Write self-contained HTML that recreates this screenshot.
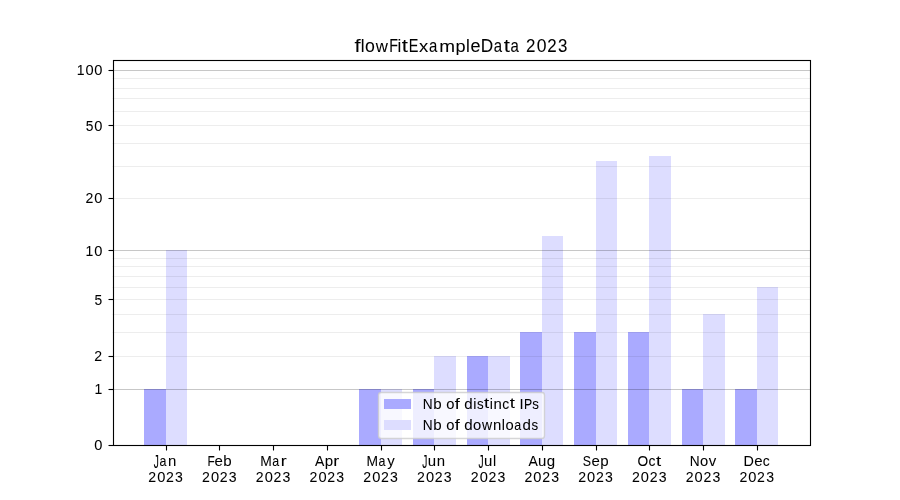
<!DOCTYPE html><html><head><meta charset="utf-8"><title>flowFitExampleData 2023</title><style>html,body{margin:0;padding:0;background:#fff;overflow:hidden;}svg{display:block;will-change:transform;}text{font-family:"Liberation Sans",sans-serif;fill:#000;}</style></head><body>
<svg width="900" height="500" viewBox="0 0 900 500">
<rect x="0" y="0" width="900" height="500" fill="#fff"/>
<rect x="144" y="389" width="22" height="56" fill="#aaaaff"/>
<rect x="166" y="250" width="21" height="195" fill="#ddddff"/>
<rect x="359" y="389" width="22" height="56" fill="#aaaaff"/>
<rect x="381" y="389" width="21" height="56" fill="#ddddff"/>
<rect x="413" y="389" width="21" height="56" fill="#aaaaff"/>
<rect x="434" y="356" width="22" height="89" fill="#ddddff"/>
<rect x="467" y="356" width="21" height="89" fill="#aaaaff"/>
<rect x="488" y="356" width="22" height="89" fill="#ddddff"/>
<rect x="520" y="332" width="22" height="113" fill="#aaaaff"/>
<rect x="542" y="236" width="21" height="209" fill="#ddddff"/>
<rect x="574" y="332" width="22" height="113" fill="#aaaaff"/>
<rect x="596" y="161" width="21" height="284" fill="#ddddff"/>
<rect x="628" y="332" width="21" height="113" fill="#aaaaff"/>
<rect x="649" y="156" width="22" height="289" fill="#ddddff"/>
<rect x="682" y="389" width="21" height="56" fill="#aaaaff"/>
<rect x="703" y="314" width="22" height="131" fill="#ddddff"/>
<rect x="735" y="389" width="22" height="56" fill="#aaaaff"/>
<rect x="757" y="287" width="21" height="158" fill="#ddddff"/>
<line x1="112.5" x2="810.0" y1="78.5" y2="78.5" stroke="#000" stroke-opacity="0.07" stroke-width="1.111"/>
<line x1="112.5" x2="810.0" y1="88.5" y2="88.5" stroke="#000" stroke-opacity="0.07" stroke-width="1.111"/>
<line x1="112.5" x2="810.0" y1="98.5" y2="98.5" stroke="#000" stroke-opacity="0.07" stroke-width="1.111"/>
<line x1="112.5" x2="810.0" y1="111.5" y2="111.5" stroke="#000" stroke-opacity="0.07" stroke-width="1.111"/>
<line x1="112.5" x2="810.0" y1="125.5" y2="125.5" stroke="#000" stroke-opacity="0.07" stroke-width="1.111"/>
<line x1="112.5" x2="810.0" y1="143.5" y2="143.5" stroke="#000" stroke-opacity="0.07" stroke-width="1.111"/>
<line x1="112.5" x2="810.0" y1="166.5" y2="166.5" stroke="#000" stroke-opacity="0.07" stroke-width="1.111"/>
<line x1="112.5" x2="810.0" y1="198.5" y2="198.5" stroke="#000" stroke-opacity="0.07" stroke-width="1.111"/>
<line x1="112.5" x2="810.0" y1="258.5" y2="258.5" stroke="#000" stroke-opacity="0.07" stroke-width="1.111"/>
<line x1="112.5" x2="810.0" y1="266.5" y2="266.5" stroke="#000" stroke-opacity="0.07" stroke-width="1.111"/>
<line x1="112.5" x2="810.0" y1="276.5" y2="276.5" stroke="#000" stroke-opacity="0.07" stroke-width="1.111"/>
<line x1="112.5" x2="810.0" y1="287.5" y2="287.5" stroke="#000" stroke-opacity="0.07" stroke-width="1.111"/>
<line x1="112.5" x2="810.0" y1="299.5" y2="299.5" stroke="#000" stroke-opacity="0.07" stroke-width="1.111"/>
<line x1="112.5" x2="810.0" y1="314.5" y2="314.5" stroke="#000" stroke-opacity="0.07" stroke-width="1.111"/>
<line x1="112.5" x2="810.0" y1="332.5" y2="332.5" stroke="#000" stroke-opacity="0.07" stroke-width="1.111"/>
<line x1="112.5" x2="810.0" y1="356.5" y2="356.5" stroke="#000" stroke-opacity="0.07" stroke-width="1.111"/>
<line x1="112.5" x2="810.0" y1="70.5" y2="70.5" stroke="#000" stroke-opacity="0.22" stroke-width="1.111"/>
<line x1="112.5" x2="810.0" y1="250.5" y2="250.5" stroke="#000" stroke-opacity="0.22" stroke-width="1.111"/>
<line x1="112.5" x2="810.0" y1="389.5" y2="389.5" stroke="#000" stroke-opacity="0.22" stroke-width="1.111"/>
<rect x="378.5" y="392.5" width="166" height="46" rx="2.78" ry="2.78" fill="#fff" fill-opacity="0.8" stroke="#ccc" stroke-opacity="0.8" stroke-width="1.389"/>
<rect x="384" y="399" width="27" height="10" fill="#aaaaff"/>
<rect x="384" y="420" width="27" height="10" fill="#ddddff"/>
<rect x="113.5" y="60.5" width="697" height="385" fill="none" stroke="#000" stroke-width="1.111"/>
<line x1="108.5" x2="113.5" y1="445.5" y2="445.5" stroke="#000" stroke-width="1.111"/>
<text transform="translate(98.36 450.05) scale(0.999 1.013)" x="-4.07" font-size="14.65" stroke="#000" stroke-width="0.05">0</text>
<line x1="108.5" x2="113.5" y1="389.5" y2="389.5" stroke="#000" stroke-width="1.111"/>
<text transform="translate(98.48 394.00) scale(0.954 1.004)" x="-4.27" font-size="14.65" stroke="#000" stroke-width="0.05">1</text>
<line x1="108.5" x2="113.5" y1="356.5" y2="356.5" stroke="#000" stroke-width="1.111"/>
<text transform="translate(98.18 361.00) scale(0.963 1.008)" x="-4.07" font-size="14.65" stroke="#000" stroke-width="0.05">2</text>
<line x1="108.5" x2="113.5" y1="299.5" y2="299.5" stroke="#000" stroke-width="1.111"/>
<text transform="translate(98.29 305.05) scale(0.943 1.010)" x="-4.06" font-size="14.65" stroke="#000" stroke-width="0.05">5</text>
<line x1="108.5" x2="113.5" y1="250.5" y2="250.5" stroke="#000" stroke-width="1.111"/>
<text transform="translate(89.65 256.00) scale(0.954 1.004)" x="-4.27" font-size="14.65" stroke="#000" stroke-width="0.05">1</text>
<text transform="translate(98.36 256.05) scale(0.999 1.013)" x="-4.07" font-size="14.65" stroke="#000" stroke-width="0.05">0</text>
<line x1="108.5" x2="113.5" y1="198.5" y2="198.5" stroke="#000" stroke-width="1.111"/>
<text transform="translate(89.34 203.00) scale(0.963 1.008)" x="-4.07" font-size="14.65" stroke="#000" stroke-width="0.05">2</text>
<text transform="translate(98.36 203.05) scale(0.999 1.013)" x="-4.07" font-size="14.65" stroke="#000" stroke-width="0.05">0</text>
<line x1="108.5" x2="113.5" y1="125.5" y2="125.5" stroke="#000" stroke-width="1.111"/>
<text transform="translate(89.45 131.05) scale(0.943 1.010)" x="-4.06" font-size="14.65" stroke="#000" stroke-width="0.05">5</text>
<text transform="translate(98.36 131.05) scale(0.999 1.013)" x="-4.07" font-size="14.65" stroke="#000" stroke-width="0.05">0</text>
<line x1="108.5" x2="113.5" y1="70.5" y2="70.5" stroke="#000" stroke-width="1.111"/>
<text transform="translate(80.81 75.00) scale(0.954 1.004)" x="-4.27" font-size="14.65" stroke="#000" stroke-width="0.05">1</text>
<text transform="translate(89.52 75.05) scale(0.999 1.013)" x="-4.07" font-size="14.65" stroke="#000" stroke-width="0.05">0</text>
<text transform="translate(98.36 75.05) scale(0.999 1.013)" x="-4.07" font-size="14.65" stroke="#000" stroke-width="0.05">0</text>
<line x1="166.5" x2="166.5" y1="445.5" y2="450.5" stroke="#000" stroke-width="1.111"/>
<text transform="translate(156.00 468.32) scale(0.700 1.262)" x="-3.23" font-size="14.65" stroke="#000" stroke-width="0.05">J</text>
<text transform="translate(163.13 465.77) scale(0.852 0.993)" x="-4.39" font-size="14.65" stroke="#000" stroke-width="0.05">a</text>
<text transform="translate(172.04 465.72) scale(1.022 0.987)" x="-4.09" font-size="14.65" stroke="#000" stroke-width="0.05">n</text>
<text transform="translate(152.26 481.92) scale(0.963 1.008)" x="-4.07" font-size="14.65" stroke="#000" stroke-width="0.05">2</text>
<text transform="translate(161.28 481.97) scale(0.999 1.013)" x="-4.07" font-size="14.65" stroke="#000" stroke-width="0.05">0</text>
<text transform="translate(169.93 481.92) scale(0.963 1.008)" x="-4.07" font-size="14.65" stroke="#000" stroke-width="0.05">2</text>
<text transform="translate(178.93 481.97) scale(0.960 1.013)" x="-4.03" font-size="14.65" stroke="#000" stroke-width="0.05">3</text>
<line x1="219.5" x2="219.5" y1="445.5" y2="450.5" stroke="#000" stroke-width="1.111"/>
<text transform="translate(211.42 465.72) scale(0.812 1.004)" x="-4.78" font-size="14.65" stroke="#000" stroke-width="0.05">F</text>
<text transform="translate(218.65 465.77) scale(1.024 0.993)" x="-4.06" font-size="14.65" stroke="#000" stroke-width="0.05">e</text>
<text transform="translate(227.57 465.77) scale(1.031 0.999)" x="-4.24" font-size="14.65" stroke="#000" stroke-width="0.05">b</text>
<text transform="translate(205.99 481.92) scale(0.963 1.008)" x="-4.07" font-size="14.65" stroke="#000" stroke-width="0.05">2</text>
<text transform="translate(215.01 481.97) scale(0.999 1.013)" x="-4.07" font-size="14.65" stroke="#000" stroke-width="0.05">0</text>
<text transform="translate(223.67 481.92) scale(0.963 1.008)" x="-4.07" font-size="14.65" stroke="#000" stroke-width="0.05">2</text>
<text transform="translate(232.66 481.97) scale(0.960 1.013)" x="-4.03" font-size="14.65" stroke="#000" stroke-width="0.05">3</text>
<line x1="273.5" x2="273.5" y1="445.5" y2="450.5" stroke="#000" stroke-width="1.111"/>
<text transform="translate(266.06 465.72) scale(0.945 1.004)" x="-6.10" font-size="14.65" stroke="#000" stroke-width="0.05">M</text>
<text transform="translate(276.10 465.77) scale(0.852 0.993)" x="-4.39" font-size="14.65" stroke="#000" stroke-width="0.05">a</text>
<text transform="translate(284.05 465.72) scale(1.214 0.987)" x="-2.80" font-size="14.65" stroke="#000" stroke-width="0.05">r</text>
<text transform="translate(259.73 481.92) scale(0.963 1.008)" x="-4.07" font-size="14.65" stroke="#000" stroke-width="0.05">2</text>
<text transform="translate(268.75 481.97) scale(0.999 1.013)" x="-4.07" font-size="14.65" stroke="#000" stroke-width="0.05">0</text>
<text transform="translate(277.40 481.92) scale(0.963 1.008)" x="-4.07" font-size="14.65" stroke="#000" stroke-width="0.05">2</text>
<text transform="translate(286.40 481.97) scale(0.960 1.013)" x="-4.03" font-size="14.65" stroke="#000" stroke-width="0.05">3</text>
<line x1="327.5" x2="327.5" y1="445.5" y2="450.5" stroke="#000" stroke-width="1.111"/>
<text transform="translate(319.64 465.72) scale(0.955 1.004)" x="-4.89" font-size="14.65" stroke="#000" stroke-width="0.05">A</text>
<text transform="translate(329.06 465.64) scale(1.031 0.977)" x="-4.24" font-size="14.65" stroke="#000" stroke-width="0.05">p</text>
<text transform="translate(336.70 465.72) scale(1.214 0.987)" x="-2.80" font-size="14.65" stroke="#000" stroke-width="0.05">r</text>
<text transform="translate(313.47 481.92) scale(0.963 1.008)" x="-4.07" font-size="14.65" stroke="#000" stroke-width="0.05">2</text>
<text transform="translate(322.49 481.97) scale(0.999 1.013)" x="-4.07" font-size="14.65" stroke="#000" stroke-width="0.05">0</text>
<text transform="translate(331.14 481.92) scale(0.963 1.008)" x="-4.07" font-size="14.65" stroke="#000" stroke-width="0.05">2</text>
<text transform="translate(340.14 481.97) scale(0.960 1.013)" x="-4.03" font-size="14.65" stroke="#000" stroke-width="0.05">3</text>
<line x1="381.5" x2="381.5" y1="445.5" y2="450.5" stroke="#000" stroke-width="1.111"/>
<text transform="translate(372.28 465.72) scale(0.945 1.004)" x="-6.10" font-size="14.65" stroke="#000" stroke-width="0.05">M</text>
<text transform="translate(382.31 465.77) scale(0.852 0.993)" x="-4.39" font-size="14.65" stroke="#000" stroke-width="0.05">a</text>
<text transform="translate(390.89 465.65) scale(1.018 0.972)" x="-3.67" font-size="14.65" stroke="#000" stroke-width="0.05">y</text>
<text transform="translate(367.20 481.92) scale(0.963 1.008)" x="-4.07" font-size="14.65" stroke="#000" stroke-width="0.05">2</text>
<text transform="translate(376.22 481.97) scale(0.999 1.013)" x="-4.07" font-size="14.65" stroke="#000" stroke-width="0.05">0</text>
<text transform="translate(384.88 481.92) scale(0.963 1.008)" x="-4.07" font-size="14.65" stroke="#000" stroke-width="0.05">2</text>
<text transform="translate(393.87 481.97) scale(0.960 1.013)" x="-4.03" font-size="14.65" stroke="#000" stroke-width="0.05">3</text>
<line x1="434.5" x2="434.5" y1="445.5" y2="450.5" stroke="#000" stroke-width="1.111"/>
<text transform="translate(424.54 468.32) scale(0.700 1.262)" x="-3.23" font-size="14.65" stroke="#000" stroke-width="0.05">J</text>
<text transform="translate(431.99 465.77) scale(1.022 1.012)" x="-4.06" font-size="14.65" stroke="#000" stroke-width="0.05">u</text>
<text transform="translate(440.87 465.72) scale(1.022 0.987)" x="-4.09" font-size="14.65" stroke="#000" stroke-width="0.05">n</text>
<text transform="translate(420.94 481.92) scale(0.963 1.008)" x="-4.07" font-size="14.65" stroke="#000" stroke-width="0.05">2</text>
<text transform="translate(429.96 481.97) scale(0.999 1.013)" x="-4.07" font-size="14.65" stroke="#000" stroke-width="0.05">0</text>
<text transform="translate(438.61 481.92) scale(0.963 1.008)" x="-4.07" font-size="14.65" stroke="#000" stroke-width="0.05">2</text>
<text transform="translate(447.61 481.97) scale(0.960 1.013)" x="-4.03" font-size="14.65" stroke="#000" stroke-width="0.05">3</text>
<line x1="488.5" x2="488.5" y1="445.5" y2="450.5" stroke="#000" stroke-width="1.111"/>
<text transform="translate(480.75 468.32) scale(0.700 1.262)" x="-3.23" font-size="14.65" stroke="#000" stroke-width="0.05">J</text>
<text transform="translate(488.20 465.77) scale(1.022 1.012)" x="-4.06" font-size="14.65" stroke="#000" stroke-width="0.05">u</text>
<text transform="translate(494.57 465.72) scale(0.969 0.994)" x="-1.63" font-size="14.65" stroke="#000" stroke-width="0.05">l</text>
<text transform="translate(474.68 481.92) scale(0.963 1.008)" x="-4.07" font-size="14.65" stroke="#000" stroke-width="0.05">2</text>
<text transform="translate(483.70 481.97) scale(0.999 1.013)" x="-4.07" font-size="14.65" stroke="#000" stroke-width="0.05">0</text>
<text transform="translate(492.35 481.92) scale(0.963 1.008)" x="-4.07" font-size="14.65" stroke="#000" stroke-width="0.05">2</text>
<text transform="translate(501.35 481.97) scale(0.960 1.013)" x="-4.03" font-size="14.65" stroke="#000" stroke-width="0.05">3</text>
<line x1="542.5" x2="542.5" y1="445.5" y2="450.5" stroke="#000" stroke-width="1.111"/>
<text transform="translate(533.04 465.72) scale(0.955 1.004)" x="-4.89" font-size="14.65" stroke="#000" stroke-width="0.05">A</text>
<text transform="translate(542.16 465.77) scale(1.022 1.012)" x="-4.06" font-size="14.65" stroke="#000" stroke-width="0.05">u</text>
<text transform="translate(550.76 465.63) scale(1.030 0.978)" x="-3.91" font-size="14.65" stroke="#000" stroke-width="0.05">g</text>
<text transform="translate(528.41 481.92) scale(0.963 1.008)" x="-4.07" font-size="14.65" stroke="#000" stroke-width="0.05">2</text>
<text transform="translate(537.43 481.97) scale(0.999 1.013)" x="-4.07" font-size="14.65" stroke="#000" stroke-width="0.05">0</text>
<text transform="translate(546.09 481.92) scale(0.963 1.008)" x="-4.07" font-size="14.65" stroke="#000" stroke-width="0.05">2</text>
<text transform="translate(555.08 481.97) scale(0.960 1.013)" x="-4.03" font-size="14.65" stroke="#000" stroke-width="0.05">3</text>
<line x1="596.5" x2="596.5" y1="445.5" y2="450.5" stroke="#000" stroke-width="1.111"/>
<text transform="translate(586.98 465.77) scale(0.845 1.013)" x="-4.88" font-size="14.65" stroke="#000" stroke-width="0.05">S</text>
<text transform="translate(595.60 465.77) scale(1.024 0.993)" x="-4.06" font-size="14.65" stroke="#000" stroke-width="0.05">e</text>
<text transform="translate(604.52 465.64) scale(1.031 0.977)" x="-4.24" font-size="14.65" stroke="#000" stroke-width="0.05">p</text>
<text transform="translate(582.15 481.92) scale(0.963 1.008)" x="-4.07" font-size="14.65" stroke="#000" stroke-width="0.05">2</text>
<text transform="translate(591.17 481.97) scale(0.999 1.013)" x="-4.07" font-size="14.65" stroke="#000" stroke-width="0.05">0</text>
<text transform="translate(599.82 481.92) scale(0.963 1.008)" x="-4.07" font-size="14.65" stroke="#000" stroke-width="0.05">2</text>
<text transform="translate(608.82 481.97) scale(0.960 1.013)" x="-4.03" font-size="14.65" stroke="#000" stroke-width="0.05">3</text>
<line x1="649.5" x2="649.5" y1="445.5" y2="450.5" stroke="#000" stroke-width="1.111"/>
<text transform="translate(642.79 465.77) scale(0.937 1.013)" x="-5.70" font-size="14.65" stroke="#000" stroke-width="0.05">O</text>
<text transform="translate(652.02 465.77) scale(0.951 0.993)" x="-3.78" font-size="14.65" stroke="#000" stroke-width="0.05">c</text>
<text transform="translate(658.63 465.60) scale(1.267 1.017)" x="-2.09" font-size="14.65" stroke="#000" stroke-width="0.05">t</text>
<text transform="translate(635.89 481.92) scale(0.963 1.008)" x="-4.07" font-size="14.65" stroke="#000" stroke-width="0.05">2</text>
<text transform="translate(644.91 481.97) scale(0.999 1.013)" x="-4.07" font-size="14.65" stroke="#000" stroke-width="0.05">0</text>
<text transform="translate(653.56 481.92) scale(0.963 1.008)" x="-4.07" font-size="14.65" stroke="#000" stroke-width="0.05">2</text>
<text transform="translate(662.56 481.97) scale(0.960 1.013)" x="-4.03" font-size="14.65" stroke="#000" stroke-width="0.05">3</text>
<line x1="703.5" x2="703.5" y1="445.5" y2="450.5" stroke="#000" stroke-width="1.111"/>
<text transform="translate(694.71 465.72) scale(0.936 1.004)" x="-5.29" font-size="14.65" stroke="#000" stroke-width="0.05">N</text>
<text transform="translate(704.15 465.77) scale(1.008 0.993)" x="-4.07" font-size="14.65" stroke="#000" stroke-width="0.05">o</text>
<text transform="translate(712.51 465.72) scale(1.023 0.981)" x="-3.66" font-size="14.65" stroke="#000" stroke-width="0.05">v</text>
<text transform="translate(689.62 481.92) scale(0.963 1.008)" x="-4.07" font-size="14.65" stroke="#000" stroke-width="0.05">2</text>
<text transform="translate(698.64 481.97) scale(0.999 1.013)" x="-4.07" font-size="14.65" stroke="#000" stroke-width="0.05">0</text>
<text transform="translate(707.30 481.92) scale(0.963 1.008)" x="-4.07" font-size="14.65" stroke="#000" stroke-width="0.05">2</text>
<text transform="translate(716.29 481.97) scale(0.960 1.013)" x="-4.03" font-size="14.65" stroke="#000" stroke-width="0.05">3</text>
<line x1="757.5" x2="757.5" y1="445.5" y2="450.5" stroke="#000" stroke-width="1.111"/>
<text transform="translate(748.98 465.72) scale(0.981 1.004)" x="-5.54" font-size="14.65" stroke="#000" stroke-width="0.05">D</text>
<text transform="translate(758.34 465.77) scale(1.024 0.993)" x="-4.06" font-size="14.65" stroke="#000" stroke-width="0.05">e</text>
<text transform="translate(766.37 465.77) scale(0.951 0.993)" x="-3.78" font-size="14.65" stroke="#000" stroke-width="0.05">c</text>
<text transform="translate(743.36 481.92) scale(0.963 1.008)" x="-4.07" font-size="14.65" stroke="#000" stroke-width="0.05">2</text>
<text transform="translate(752.38 481.97) scale(0.999 1.013)" x="-4.07" font-size="14.65" stroke="#000" stroke-width="0.05">0</text>
<text transform="translate(761.03 481.92) scale(0.963 1.008)" x="-4.07" font-size="14.65" stroke="#000" stroke-width="0.05">2</text>
<text transform="translate(770.03 481.97) scale(0.960 1.013)" x="-4.03" font-size="14.65" stroke="#000" stroke-width="0.05">3</text>
<text transform="translate(427.76 408.56) scale(0.936 1.004)" x="-5.29" font-size="14.65" stroke="#000" stroke-width="0.05">N</text>
<text transform="translate(437.62 408.61) scale(1.031 0.999)" x="-4.24" font-size="14.65" stroke="#000" stroke-width="0.05">b</text>
<text transform="translate(450.44 408.61) scale(1.008 0.993)" x="-4.07" font-size="14.65" stroke="#000" stroke-width="0.05">o</text>
<text transform="translate(457.42 408.56) scale(1.245 0.995)" x="-2.15" font-size="14.65" stroke="#000" stroke-width="0.05">f</text>
<text transform="translate(468.15 408.61) scale(1.030 0.999)" x="-3.91" font-size="14.65" stroke="#000" stroke-width="0.05">d</text>
<text transform="translate(474.74 408.56) scale(0.969 0.994)" x="-1.62" font-size="14.65" stroke="#000" stroke-width="0.05">i</text>
<text transform="translate(480.32 408.61) scale(0.909 0.996)" x="-3.60" font-size="14.65" stroke="#000" stroke-width="0.05">s</text>
<text transform="translate(486.65 408.44) scale(1.267 1.017)" x="-2.09" font-size="14.65" stroke="#000" stroke-width="0.05">t</text>
<text transform="translate(491.28 408.56) scale(0.969 0.994)" x="-1.62" font-size="14.65" stroke="#000" stroke-width="0.05">i</text>
<text transform="translate(497.65 408.56) scale(1.022 0.987)" x="-4.09" font-size="14.65" stroke="#000" stroke-width="0.05">n</text>
<text transform="translate(505.78 408.61) scale(0.951 0.993)" x="-3.78" font-size="14.65" stroke="#000" stroke-width="0.05">c</text>
<text transform="translate(512.39 408.44) scale(1.267 1.017)" x="-2.09" font-size="14.65" stroke="#000" stroke-width="0.05">t</text>
<text transform="translate(521.56 408.56) scale(1.002 1.004)" x="-2.04" font-size="14.65" stroke="#000" stroke-width="0.05">I</text>
<text transform="translate(528.24 408.56) scale(0.838 1.004)" x="-5.10" font-size="14.65" stroke="#000" stroke-width="0.05">P</text>
<text transform="translate(535.39 408.61) scale(0.909 0.996)" x="-3.60" font-size="14.65" stroke="#000" stroke-width="0.05">s</text>
<text transform="translate(427.76 429.50) scale(0.936 1.004)" x="-5.29" font-size="14.65" stroke="#000" stroke-width="0.05">N</text>
<text transform="translate(437.62 429.55) scale(1.031 0.999)" x="-4.24" font-size="14.65" stroke="#000" stroke-width="0.05">b</text>
<text transform="translate(450.44 429.55) scale(1.008 0.993)" x="-4.07" font-size="14.65" stroke="#000" stroke-width="0.05">o</text>
<text transform="translate(457.42 429.50) scale(1.245 0.995)" x="-2.15" font-size="14.65" stroke="#000" stroke-width="0.05">f</text>
<text transform="translate(468.15 429.55) scale(1.030 0.999)" x="-3.91" font-size="14.65" stroke="#000" stroke-width="0.05">d</text>
<text transform="translate(477.06 429.55) scale(1.008 0.993)" x="-4.07" font-size="14.65" stroke="#000" stroke-width="0.05">o</text>
<text transform="translate(486.99 429.50) scale(0.958 0.981)" x="-5.30" font-size="14.65" stroke="#000" stroke-width="0.05">w</text>
<text transform="translate(497.11 429.50) scale(1.022 0.987)" x="-4.09" font-size="14.65" stroke="#000" stroke-width="0.05">n</text>
<text transform="translate(503.40 429.50) scale(0.969 0.994)" x="-1.63" font-size="14.65" stroke="#000" stroke-width="0.05">l</text>
<text transform="translate(509.58 429.55) scale(1.008 0.993)" x="-4.07" font-size="14.65" stroke="#000" stroke-width="0.05">o</text>
<text transform="translate(517.87 429.55) scale(0.852 0.993)" x="-4.39" font-size="14.65" stroke="#000" stroke-width="0.05">a</text>
<text transform="translate(526.50 429.55) scale(1.030 0.999)" x="-3.91" font-size="14.65" stroke="#000" stroke-width="0.05">d</text>
<text transform="translate(534.81 429.55) scale(0.909 0.996)" x="-3.60" font-size="14.65" stroke="#000" stroke-width="0.05">s</text>
<text transform="translate(357.69 51.67) scale(1.245 0.995)" x="-2.58" font-size="17.58" stroke="#000" stroke-width="0.05">f</text>
<text transform="translate(362.59 51.67) scale(0.969 0.994)" x="-1.96" font-size="17.58" stroke="#000" stroke-width="0.05">l</text>
<text transform="translate(370.01 51.74) scale(1.008 0.993)" x="-4.89" font-size="17.58" stroke="#000" stroke-width="0.05">o</text>
<text transform="translate(381.92 51.67) scale(0.958 0.981)" x="-6.36" font-size="17.58" stroke="#000" stroke-width="0.05">w</text>
<text transform="translate(393.86 51.67) scale(0.812 1.004)" x="-5.74" font-size="17.58" stroke="#000" stroke-width="0.05">F</text>
<text transform="translate(399.43 51.67) scale(0.969 0.994)" x="-1.95" font-size="17.58" stroke="#000" stroke-width="0.05">i</text>
<text transform="translate(405.03 51.53) scale(1.267 1.017)" x="-2.51" font-size="17.58" stroke="#000" stroke-width="0.05">t</text>
<text transform="translate(413.83 51.67) scale(0.821 1.004)" x="-6.21" font-size="17.58" stroke="#000" stroke-width="0.05">E</text>
<text transform="translate(423.71 51.67) scale(1.051 0.981)" x="-4.40" font-size="17.58" stroke="#000" stroke-width="0.05">x</text>
<text transform="translate(433.52 51.74) scale(0.852 0.993)" x="-5.26" font-size="17.58" stroke="#000" stroke-width="0.05">a</text>
<text transform="translate(447.05 51.67) scale(1.080 0.987)" x="-7.33" font-size="17.58" stroke="#000" stroke-width="0.05">m</text>
<text transform="translate(460.71 51.57) scale(1.031 0.977)" x="-5.09" font-size="17.58" stroke="#000" stroke-width="0.05">p</text>
<text transform="translate(468.02 51.67) scale(0.969 0.994)" x="-1.96" font-size="17.58" stroke="#000" stroke-width="0.05">l</text>
<text transform="translate(475.47 51.74) scale(1.024 0.993)" x="-4.87" font-size="17.58" stroke="#000" stroke-width="0.05">e</text>
<text transform="translate(487.33 51.67) scale(0.981 1.004)" x="-6.65" font-size="17.58" stroke="#000" stroke-width="0.05">D</text>
<text transform="translate(498.27 51.74) scale(0.852 0.993)" x="-5.26" font-size="17.58" stroke="#000" stroke-width="0.05">a</text>
<text transform="translate(506.92 51.53) scale(1.267 1.017)" x="-2.51" font-size="17.58" stroke="#000" stroke-width="0.05">t</text>
<text transform="translate(515.02 51.74) scale(0.852 0.993)" x="-5.26" font-size="17.58" stroke="#000" stroke-width="0.05">a</text>
<text transform="translate(530.75 51.67) scale(0.963 1.008)" x="-4.89" font-size="17.58" stroke="#000" stroke-width="0.05">2</text>
<text transform="translate(541.58 51.73) scale(0.999 1.013)" x="-4.89" font-size="17.58" stroke="#000" stroke-width="0.05">0</text>
<text transform="translate(551.96 51.67) scale(0.963 1.008)" x="-4.89" font-size="17.58" stroke="#000" stroke-width="0.05">2</text>
<text transform="translate(562.76 51.73) scale(0.960 1.013)" x="-4.84" font-size="17.58" stroke="#000" stroke-width="0.05">3</text>
</svg></body></html>
